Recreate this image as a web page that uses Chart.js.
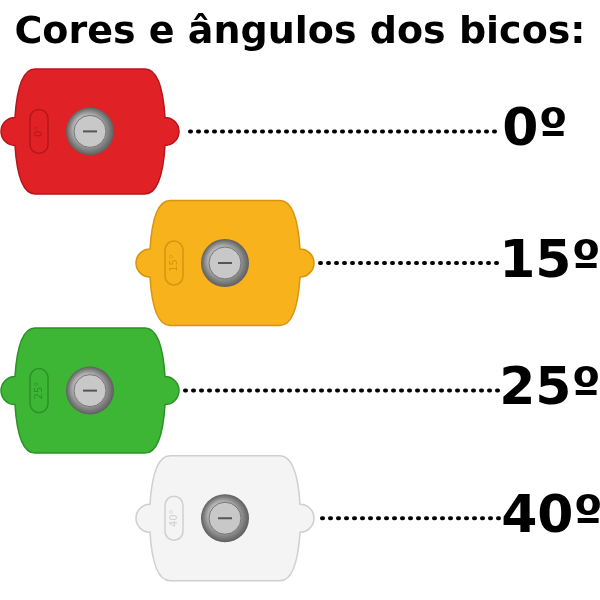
<!DOCTYPE html>
<html>
<head>
<meta charset="utf-8">
<script src="https://cdn.jsdelivr.net/npm/chart.js@4"></script>
<style>
  html, body { margin: 0; padding: 0; background: #fff; }
  #wrap { width: 600px; height: 600px; }
</style>
</head>
<body>
<div id="wrap"><canvas id="nozzles"></canvas></div>
<script>
// Nozzle data
const angleLabels = ["0º", "15º", "25º", "40º"];
const nozzleX = [90, 225, 90, 225];
const nozzleY = [130, 262, 390, 518];
const nozzleColors = ["#e02226", "#f7b21c", "#3db635", "#f4f4f4"];
const nozzleEdges = ["#b5161b", "#d89410", "#2c9126", "#cfcfcf"];
const lineStartX = [190, 320, 185, 322];
const lineEndX = [495, 500, 500, 500];
const labelX = [535, 550, 550, 552];

// Draws the nozzle bodies and the angle labels on top of the point positions
const nozzlePlugin = {
  id: "nozzlePlugin",
  afterDatasetsDraw(chart) {
    const ctx = chart.ctx;
    const meta = chart.getDatasetMeta(0);
    const xs = chart.scales.x, ys = chart.scales.y;
    meta.data.forEach((pt, i) => {
      const cx = pt.x, cy = pt.y;
      const w = 160, h = 125;
      ctx.save();
      // body
      ctx.beginPath();
      ctx.moveTo(cx - w / 2 + 25, cy - h / 2);
      ctx.lineTo(cx + w / 2 - 25, cy - h / 2);
      ctx.quadraticCurveTo(cx + w / 2 - 8, cy - h / 2, cx + w / 2 - 5, cy - 14);
      ctx.arc(cx + w / 2 - 5, cy, 14, -Math.PI / 2, Math.PI / 2);
      ctx.quadraticCurveTo(cx + w / 2 - 8, cy + h / 2, cx + w / 2 - 25, cy + h / 2);
      ctx.lineTo(cx - w / 2 + 25, cy + h / 2);
      ctx.quadraticCurveTo(cx - w / 2 + 8, cy + h / 2, cx - w / 2 + 5, cy + 14);
      ctx.arc(cx - w / 2 + 5, cy, 14, Math.PI / 2, -Math.PI / 2);
      ctx.quadraticCurveTo(cx - w / 2 + 8, cy - h / 2, cx - w / 2 + 25, cy - h / 2);
      ctx.closePath();
      ctx.fillStyle = nozzleColors[i];
      ctx.fill();
      ctx.strokeStyle = nozzleEdges[i];
      ctx.lineWidth = 1.5;
      ctx.stroke();
      // slot with the engraved angle
      ctx.beginPath();
      ctx.roundRect(cx - 60, cy - 22, 18, 44, 9);
      ctx.strokeStyle = nozzleEdges[i];
      ctx.stroke();
      ctx.translate(cx - 51, cy);
      ctx.rotate(-Math.PI / 2);
      ctx.fillStyle = nozzleEdges[i];
      ctx.font = "10px 'DejaVu Sans'";
      ctx.textAlign = "center";
      ctx.textBaseline = "middle";
      ctx.fillText(angleLabels[i].replace("º", "°"), 0, 0);
      ctx.restore();
      // steel insert
      ctx.save();
      const g = ctx.createRadialGradient(cx - 6, cy - 6, 2, cx, cy, 24);
      g.addColorStop(0, "#f2f2f2");
      g.addColorStop(0.6, "#a9a9a9");
      g.addColorStop(1, "#5e5e5e");
      ctx.beginPath();
      ctx.arc(cx, cy, 24, 0, Math.PI * 2);
      ctx.fillStyle = g;
      ctx.fill();
      ctx.beginPath();
      ctx.arc(cx, cy, 16, 0, Math.PI * 2);
      ctx.fillStyle = "#c8c8c8";
      ctx.fill();
      ctx.strokeStyle = "#777";
      ctx.lineWidth = 1;
      ctx.stroke();
      ctx.beginPath();
      ctx.moveTo(cx - 7, cy);
      ctx.lineTo(cx + 7, cy);
      ctx.strokeStyle = "#555";
      ctx.lineWidth = 2;
      ctx.stroke();
      ctx.restore();
      // angle label
      ctx.save();
      ctx.fillStyle = "#000";
      ctx.font = "bold 52px 'DejaVu Sans'";
      ctx.textAlign = "center";
      ctx.textBaseline = "middle";
      ctx.fillText(angleLabels[i], xs.getPixelForValue(labelX[i]), ys.getPixelForValue(nozzleY[i]));
      ctx.restore();
    });
  }
};

const datasets = [{
  data: nozzleX.map((x, i) => ({ x, y: nozzleY[i] })),
  pointRadius: 0,
  showLine: false
}];
angleLabels.forEach((lab, i) => {
  datasets.push({
    data: [{ x: lineStartX[i], y: nozzleY[i] }, { x: lineEndX[i], y: nozzleY[i] }],
    showLine: true,
    borderColor: "#000",
    borderWidth: 4,
    borderDash: [1, 7],
    borderCapStyle: "round",
    pointRadius: 0
  });
});

new Chart(document.getElementById("nozzles").getContext("2d"), {
  type: "scatter",
  data: { datasets },
  options: {
    responsive: true,
    maintainAspectRatio: false,
    animation: false,
    layout: { padding: 0 },
    scales: {
      x: { display: false, min: 0, max: 600 },
      y: { display: false, min: 62, max: 600, reverse: true }
    },
    plugins: {
      legend: { display: false },
      tooltip: { enabled: false },
      title: {
        display: true,
        text: "Cores e ângulos dos bicos:",
        color: "#000",
        font: { family: "'DejaVu Sans'", size: 38, weight: "bold" },
        padding: { top: 10, bottom: 8 }
      }
    }
  },
  plugins: [nozzlePlugin]
});
</script>
</body>
</html>
